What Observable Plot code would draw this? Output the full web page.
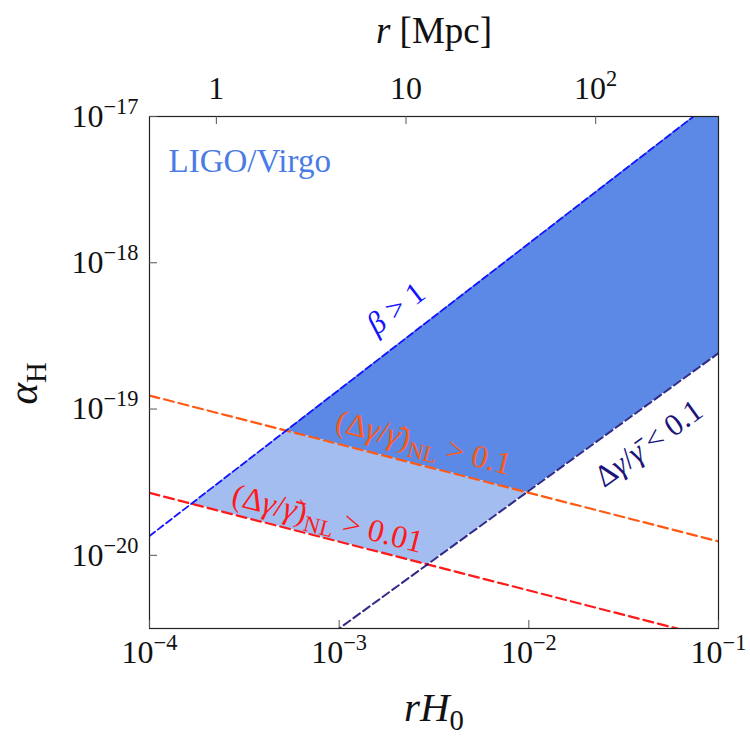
<!DOCTYPE html>
<html>
<head>
<meta charset="utf-8">
<script src="https://cdn.jsdelivr.net/npm/d3@7"></script>
<script src="https://cdn.jsdelivr.net/npm/@observablehq/plot@0.6"></script>
<style>
  html, body { margin: 0; padding: 0; background: #fff; }
  svg { font-family: "Liberation Serif", "DejaVu Serif", serif; }
</style>
</head>
<body>
<script>
// ---------- data ----------
const xDomain = [1e-4, 1e-1];                 // r H0
const yDomain = [3.16e-21, 1e-17];            // alpha_H
const xTicks = [1e-4, 1e-3, 1e-2, 1e-1];
const yTicks = [1e-20, 1e-19, 1e-18, 1e-17];
const topTicksMpc = [1, 10, 100];             // r [Mpc]
const hubbleRadiusMpc = 4441;                 // c/H0 in Mpc
// constraint lines, values at x = 1e-4 and x = 1e-1
const lineX = [1e-4, 1e-1];
const betaY = [1.355e-20, 1.355e-17];         // beta > 1
const deltaGammaY = [3.62e-22, 2.41e-19];     // Δγ/γ̄ < 0.1
const nl01Y = [1.236e-19, 1.245e-20];         // (Δγ/γ̄)_NL > 0.1
const nl001Y = [2.67e-20, 2.67e-21];          // (Δγ/γ̄)_NL > 0.01

// ---------- layout ----------
const W = 750, H = 746;
const mL = 149, mR = 32, mT = 116, mB = 118;
const plotW = W - mL - mR, plotH = H - mT - mB;
const tickLen = 8;

// ---------- helpers (log-log straight lines) ----------
const lg = Math.log10;
function fit(ys) {
  const lx0 = lg(lineX[0]), lx1 = lg(lineX[1]);
  const b = (lg(ys[1]) - lg(ys[0])) / (lx1 - lx0);
  return {a: lg(ys[0]) - b * lx0, b};
}
const beta = fit(betaY), dg = fit(deltaGammaY), nl1 = fit(nl01Y), nl2 = fit(nl001Y);
const at = (l, lx) => l.a + l.b * lx;
const cross = (l1, l2) => (l2.a - l1.a) / (l1.b - l2.b);
const xBR = cross(beta, nl2), xBO = cross(beta, nl1), xDR = cross(dg, nl2), xDO = cross(dg, nl1);
const lxMax = lg(xDomain[1]);

const lightRows = [xBR, xBO, xDR, xDO].map(lx => ({
  x: 10 ** lx,
  lo: 10 ** Math.max(at(nl2, lx), at(dg, lx)),
  hi: 10 ** Math.min(at(beta, lx), at(nl1, lx))
}));
const darkRows = [xBO, xDO, lxMax].map(lx => ({
  x: 10 ** lx,
  lo: 10 ** Math.max(at(nl1, lx), at(dg, lx)),
  hi: 10 ** at(beta, lx)
}));
const lineRows = (ys) => lineX.map((x, i) => ({x, y: ys[i]}));

const pxDecX = plotW / (lg(xDomain[1]) - lg(xDomain[0]));
const pxDecY = plotH / (lg(yDomain[1]) - lg(yDomain[0]));
const angle = (l) => -Math.atan(l.b * pxDecY / pxDecX) * 180 / Math.PI;

const expFmt = d => "10^{\u2212" + Math.round(-lg(d)) + "}";
const topPos = topTicksMpc.map(r => r / hubbleRadiusMpc);
const topFmt = d => { const r = Math.round(d * hubbleRadiusMpc); return r >= 100 ? "10^{" + Math.round(lg(r)) + "}" : String(r); };

const C = {
  dark: "#5b89e5", light: "#a3bdf1",
  beta: "#1414ff", orange: "#ff5a14", red: "#ff1a1a", navy: "#1c1478",
  ligo: "#4a7be6", frame: "#222", tick: "#555"
};

const chart = Plot.plot({
  width: W, height: H,
  marginLeft: mL, marginRight: mR, marginTop: mT, marginBottom: mB,
  x: {type: "log", domain: xDomain},
  y: {type: "log", domain: yDomain},
  marks: [
    Plot.areaY(darkRows, {x: "x", y1: "lo", y2: "hi", fill: C.dark, clip: true}),
    Plot.areaY(lightRows, {x: "x", y1: "lo", y2: "hi", fill: C.light, clip: true}),
    Plot.line(lineRows(nl001Y), {x: "x", y: "y", stroke: C.red, strokeWidth: 2.2, strokeDasharray: "10,5", clip: true}),
    Plot.line(lineRows(nl01Y), {x: "x", y: "y", stroke: C.orange, strokeWidth: 2.2, strokeDasharray: "10,5", clip: true}),
    Plot.line(lineRows(deltaGammaY), {x: "x", y: "y", stroke: C.navy, strokeOpacity: 0.9, strokeWidth: 2, strokeDasharray: "8,4", clip: true}),
    Plot.line(lineRows(betaY), {x: "x", y: "y", stroke: C.beta, strokeWidth: 1.8, strokeDasharray: "7,3.5", clip: true}),
    Plot.frame({stroke: C.frame, strokeWidth: 1.2}),
    // inward ticks
    Plot.tickX(xTicks, {x: d => d, insetTop: plotH - tickLen, stroke: C.tick}),
    Plot.tickX(topPos, {x: d => d, insetBottom: plotH - tickLen, stroke: C.tick}),
    Plot.tickY(yTicks, {y: d => d, insetRight: plotW - tickLen, stroke: C.tick}),
    // tick labels
    Plot.axisX({anchor: "bottom", ticks: xTicks, tickSize: 0, tickPadding: 12, tickFormat: expFmt, fontSize: 32, fill: "#111", label: null}),
    Plot.axisX({anchor: "top", ticks: topPos, tickSize: 0, tickPadding: 18, tickFormat: topFmt, fontSize: 32, fill: "#111", label: null}),
    Plot.axisY({anchor: "left", ticks: yTicks, tickSize: 0, tickPadding: 11, tickFormat: expFmt, fontSize: 32, fill: "#111", label: null}),
    // axis titles
    Plot.text(["*r* [Mpc]"], {frameAnchor: "top", dy: -100, fontSize: 37, fill: "#111"}),
    Plot.text(["*rH*_{0}"], {frameAnchor: "bottom", dy: 92, fontSize: 41, fill: "#111"}),
    Plot.text(["*α*_{H}"], {frameAnchor: "left", dx: -126, dy: 32, rotate: -90, fontSize: 41, fill: "#111"}),
    // annotations
    Plot.text(["LIGO/Virgo"], {frameAnchor: "top-left", dx: 19, dy: 32, textAnchor: "start", fontSize: 33, fill: C.ligo}),
    Plot.text(["*β* > 1"], {x: 1.99e-3, y: 4.88e-19, rotate: angle(beta), fontSize: 31, fill: C.beta}),
    Plot.text(["(Δ*γ*/*γ\u0304*)_{NL} > 0.1"], {x: 2.79e-3, y: 5.62e-20, dy: -3, rotate: angle(nl1), fontSize: 32, fill: C.orange}),
    Plot.text(["(Δ*γ*/*γ\u0304*)_{NL} > 0.01"], {x: 8.71e-4, y: 1.78e-20, rotate: angle(nl2), fontSize: 32, fill: C.red}),
    Plot.text(["Δ*γ*/*γ\u0304* < 0.1"], {x: 4.28e-2, y: 5.81e-20, rotate: angle(dg), fontSize: 31, fill: C.navy})
  ]
});
document.body.appendChild(chart);

// turn ^{..}, _{..} and *..* into real tspans
const svgns = "http://www.w3.org/2000/svg";
function richify(root) {
  root.querySelectorAll("text").forEach(t => {
    const s = t.textContent;
    if (!/[\^_*]/.test(s)) return;
    const fs = parseFloat(getComputedStyle(t).fontSize) || 16;
    const segs = [];
    let italic = false, shift = 0, buf = "";
    const flush = () => { if (buf) segs.push({text: buf, italic, shift}); buf = ""; };
    for (let i = 0; i < s.length; i++) {
      const c = s[i];
      if (c === "*") { flush(); italic = !italic; continue; }
      if ((c === "^" || c === "_") && s[i + 1] === "{") { flush(); shift = c === "^" ? 1 : -1; i++; continue; }
      if (c === "}" && shift !== 0) { flush(); shift = 0; continue; }
      buf += c;
    }
    flush();
    while (t.firstChild) t.removeChild(t.firstChild);
    let cur = 0;
    for (const seg of segs) {
      const ts = document.createElementNS(svgns, "tspan");
      const off = seg.shift === 1 ? -0.4 * fs : seg.shift === -1 ? 0.22 * fs : 0;
      if (off !== cur) ts.setAttribute("dy", (off - cur).toFixed(2));
      cur = off;
      if (seg.shift) ts.setAttribute("font-size", (0.7 * fs).toFixed(2));
      if (seg.italic) ts.setAttribute("font-style", "italic");
      ts.textContent = seg.text;
      t.appendChild(ts);
    }
  });
}
richify(chart);
</script>
</body>
</html>
